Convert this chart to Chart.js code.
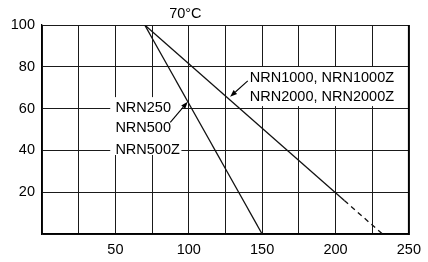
<!DOCTYPE html>
<html><head><meta charset="utf-8">
<script src="https://cdn.jsdelivr.net/npm/chart.js@4"></script>
<style>html,body{margin:0;padding:0;background:#fff}#wrap{width:428px;height:262px}</style>
</head><body><div id="wrap"><canvas id="c" width="428" height="262"></canvas></div>
<script>
// ---- data ----
const groupALabels = ['NRN250', 'NRN500', 'NRN500Z'];
const groupBLabels = ['NRN1000, NRN1000Z', 'NRN2000, NRN2000Z'];
const tempA = [70, 150];
const loadA = [100, 0];
const tempB = [70, 206];
const loadB = [100, 16];
const tempBExt = [206, 232];
const loadBExt = [16, 0];
const xTickValues = [50, 100, 150, 200, 250];
const yTickValues = [20, 40, 60, 80, 100];
const ambientLabel = '70°C';

const pts = (xs, ys) => xs.map((x, i) => ({x, y: ys[i]}));
const FONT = "'Liberation Sans', Arial, Helvetica, sans-serif";

const annot = {
  id: 'annot',
  beforeDatasetsDraw(chart) {
    const {ctx, scales: {x, y}} = chart;
    ctx.save();
    ctx.fillStyle = '#fff';
    const box = (x0, x1, y0, y1) => {
      const px0 = x.getPixelForValue(x0), px1 = x.getPixelForValue(x1);
      const py0 = y.getPixelForValue(y0), py1 = y.getPixelForValue(y1);
      ctx.fillRect(px0, py0, px1 - px0, py1 - py0);
    };
    box(46.5, 95, 65.5, 37.8);
    box(138.8, 244.6, 79.9, 61.2);
    ctx.restore();
  },
  afterDatasetsDraw(chart) {
    const {ctx, chartArea, scales: {x, y}} = chart;
    ctx.save();
    ctx.fillStyle = '#000';
    ctx.font = '14.5px ' + FONT;
    ctx.textBaseline = 'alphabetic';
    ctx.textAlign = 'left';
    const baseA = [58.5, 48.6, 38.5];
    groupALabels.forEach((t, i) => ctx.fillText(t, x.getPixelForValue(50), y.getPixelForValue(baseA[i])));
    const baseB = [72.6, 63.8];
    groupBLabels.forEach((t, i) => ctx.fillText(t, x.getPixelForValue(141.6), y.getPixelForValue(baseB[i])));
    ctx.textAlign = 'center';
    ctx.fillText(ambientLabel, x.getPixelForValue(97.7), y.getPixelForValue(103.2));

    const arrow = (tx, ty, hx, hy) => {
      const x0 = x.getPixelForValue(tx), y0 = y.getPixelForValue(ty);
      const x1 = x.getPixelForValue(hx), y1 = y.getPixelForValue(hy);
      const a = Math.atan2(y1 - y0, x1 - x0);
      const L = 7, W = 2.6;
      ctx.strokeStyle = '#000'; ctx.lineWidth = 1.1;
      ctx.beginPath(); ctx.moveTo(x0, y0);
      ctx.lineTo(x1 - L * Math.cos(a), y1 - L * Math.sin(a)); ctx.stroke();
      ctx.beginPath();
      ctx.moveTo(x1, y1);
      ctx.lineTo(x1 - L * Math.cos(a) + W * Math.sin(a), y1 - L * Math.sin(a) - W * Math.cos(a));
      ctx.lineTo(x1 - L * Math.cos(a) - W * Math.sin(a), y1 - L * Math.sin(a) + W * Math.cos(a));
      ctx.closePath(); ctx.fill();
    };
    arrow(87.4, 53.4, 99.3, 63.3);
    arrow(140.2, 73.3, 128.2, 65.7);

    ctx.strokeStyle = '#000'; ctx.lineWidth = 2;
    ctx.beginPath();
    ctx.moveTo(chartArea.right, chartArea.top);
    ctx.lineTo(chartArea.right, chartArea.bottom + 1);
    ctx.stroke();
    ctx.restore();
  }
};

const lineStyle = {borderColor: '#111', borderWidth: 1.3, pointRadius: 0, fill: false, tension: 0};

new Chart(document.getElementById('c'), {
  type: 'line',
  data: {
    datasets: [
      Object.assign({data: pts(tempA, loadA)}, lineStyle),
      Object.assign({data: pts(tempB, loadB)}, lineStyle),
      Object.assign({data: pts(tempBExt, loadBExt), borderDash: [5, 4]}, lineStyle)
    ]
  },
  options: {
    responsive: false,
    animation: false,
    devicePixelRatio: 1,
    layout: {padding: {top: 25, right: 15, left: 0, bottom: 0}},
    plugins: {legend: {display: false}, tooltip: {enabled: false}},
    scales: {
      x: {
        type: 'linear', min: 0, max: 250,
        afterFit(s) { s.height = 28; },
        ticks: {
          stepSize: 25, autoSkip: false, maxRotation: 0, padding: 7,
          color: '#000', font: {family: FONT, size: 14.5},
          callback: v => xTickValues.includes(v) ? String(v) : ''
        },
        grid: {color: '#1a1a1a', lineWidth: 1, drawTicks: false},
        border: {color: '#000', width: 1.6}
      },
      y: {
        min: 0, max: 100,
        afterFit(s) { s.width = 42; },
        ticks: {
          stepSize: 20, padding: 7,
          color: '#000', font: {family: FONT, size: 14.5},
          callback: v => yTickValues.includes(v) ? String(v) : ''
        },
        grid: {color: '#1a1a1a', lineWidth: 1, drawTicks: false},
        border: {color: '#000', width: 1.3}
      }
    }
  },
  plugins: [annot]
});
</script>
</body></html>
